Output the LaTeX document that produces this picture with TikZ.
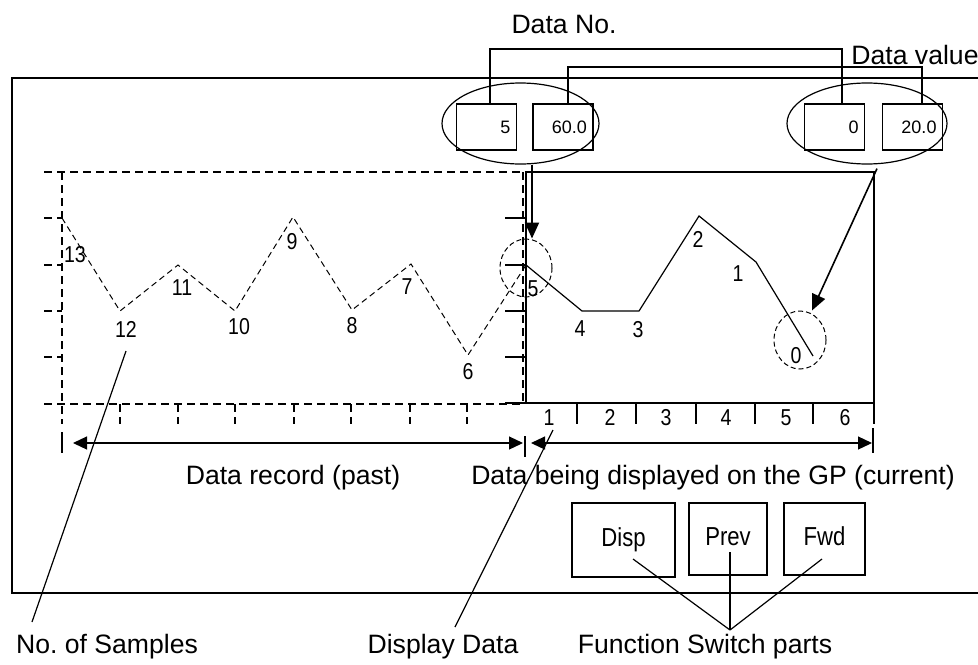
\documentclass[tikz,border=0pt]{standalone}
\usepackage{fontspec}
\setmainfont{Liberation Sans}
\newfontfamily\condfont[FakeStretch=0.85]{Liberation Sans}
\usetikzlibrary{arrows.meta,shapes.geometric}
\frenchspacing

\tikzset{
  every node/.style={font=\fontsize{13.3}{16}\selectfont},
  frameline/.style={line width=1pt},
  thinline/.style={line width=0.6pt},
  dashframe/.style={line width=1pt, dash pattern=on 4pt off 2.5pt},
  pastline/.style={line width=0.5pt, dash pattern=on 3pt off 2pt},
  ptlabel/.style={font=\condfont\fontsize{11.5}{13}\selectfont, inner sep=1pt,
    text height=8.3pt, text depth=0pt},
  valbox/.style={draw, line width=0.6pt, minimum height=23pt, inner xsep=3pt,
    text width=24pt, align=right, font=\fontsize{9}{11}\selectfont},
  group/.style={draw, ellipse, line width=0.6pt, minimum height=40.5pt, inner sep=0pt},
  ring/.style={draw, ellipse, line width=0.5pt, dash pattern=on 2.5pt off 1.5pt,
    minimum width=26pt, minimum height=29pt, inner sep=0pt},
  swbox/.style={draw, line width=0.6pt, minimum height=36pt, text height=9.4pt, text depth=2.6pt,
    font=\condfont\fontsize{13}{15}\selectfont},
  bigtip/.style={-{Triangle[length=8pt,width=7pt]}},
  dimarrow/.style={{Triangle[length=7pt,width=6.5pt]}-{Triangle[length=7pt,width=6.5pt]}, line width=0.6pt}
}

\begin{document}
\begin{tikzpicture}[x=0.5pt,y=-0.5pt]
  \useasboundingbox (0,0) rectangle (978,664);
  % outer frame
  \draw[frameline] (978,78) -- (12,78) -- (12,593) -- (978,593);

  % past record (dashed)
  \draw[dashframe] (44,172) -- (526,172);
  \draw[dashframe] (44,404) -- (524,404);
  \draw[dashframe] (62,172) -- (62,424);
  \draw[dashframe] (523,172) -- (523,404);
  \foreach \y in {218,265,311,357}
    \draw[dashframe] (44,\y) -- (62,\y);
  \foreach \x in {120,178,235,294,351,410,467}
    \draw[dashframe] (\x,404) -- (\x,424);

  % current display (solid)
  \draw[frameline] (526,172) rectangle (874,403);
  \foreach \y in {218,265,311,357,403}
    \draw[frameline] (505,\y) -- (526,\y);
  \foreach \x in {577,636,696,755,813,874}
    \draw[frameline] (\x,403) -- (\x,424);
  \foreach \x/\n in {549/1,610/2,666/3,726/4,786/5,845/6}
    \node[ptlabel] (ax\n) at (\x,417) {\n};

  % data points
  \coordinate (p13) at (62,218);
  \coordinate (p12) at (120,311);
  \coordinate (p11) at (178,265);
  \coordinate (p10) at (235,311);
  \coordinate (p9) at (293,217);
  \coordinate (p8) at (352,310);
  \coordinate (p7) at (411,264);
  \coordinate (p6) at (468,355);
  \coordinate (p5) at (526,265);
  \coordinate (p4) at (582,311);
  \coordinate (p3) at (639,311);
  \coordinate (p2) at (699,216);
  \coordinate (p1) at (756,262);
  \coordinate (p0) at (813,356);
  \draw[pastline] (p13) -- (p12) -- (p11) -- (p10) -- (p9) -- (p8) -- (p7) -- (p6) -- (p5);
  \draw[thinline] (p5) -- (p4) -- (p3) -- (p2) -- (p1) -- (p0);

  % point numbers
  \node[ptlabel] (l13) at (75,254) {13};
  \node[ptlabel] (l12) at (126,329) {12};
  \node[ptlabel] (l11) at (182,287) {11};
  \node[ptlabel] (l10) at (239,326) {10};
  \node[ptlabel] (l9) at (292,241) {9};
  \node[ptlabel] (l8) at (352,325) {8};
  \node[ptlabel] (l7) at (407,286) {7};
  \node[ptlabel] (l6) at (468,371) {6};
  \node[ptlabel] (l5) at (533,288) {5};
  \node[ptlabel] (l4) at (580,328) {4};
  \node[ptlabel] (l3) at (638,329) {3};
  \node[ptlabel] (l2) at (698,239) {2};
  \node[ptlabel] (l1) at (738,273) {1};
  \node[ptlabel] (l0) at (796,355) {0};

  % marked points
  \node[ring] (ring5) at (526,268) {};
  \node[ring] (ring0) at (800,340) {};

  % value boxes
  \node[valbox] (b5) at (486.5,127) {5};
  \node[valbox] (b60) at (563,127) {60.0};
  \node[valbox] (b0) at (834.5,127) {0};
  \node[valbox] (b20) at (912.5,127) {20.0};
  \node[group, minimum width=78.5pt] (grpL) at (520.5,123.5) {};
  \node[group, minimum width=80pt] (grpR) at (867,123.5) {};
  \draw[frameline] ([xshift=1.75pt]b5.north) -- ++(0,-54) -| ([xshift=3.75pt]b0.north);
  \draw[frameline] ([xshift=2.5pt]b60.north) -- ++(0,-36) -| ([xshift=4.75pt]b20.north);
  \node (datano) at (564,24) {Data No.};
  \node (dataval) at (915,55) {Data value};

  % arrows to marked points
  \draw[bigtip, frameline] ([xshift=5.75pt]grpL.south) -- ([xshift=3pt]ring5.north);
  \draw[bigtip, line width=0.8pt] ([shift={(10,4)}]grpR.south) -- ([xshift=6pt]ring0.north);

  % ranges
  \coordinate (pastL) at (62,443);
  \coordinate (pastR) at (525,443);
  \coordinate (curR) at (873,443);
  \draw[thinline] (62,432) -- (62,453);
  \draw[thinline] (525,436) -- (525,457);
  \draw[thinline] (873,428) -- (873,453);
  \draw[dimarrow] ([xshift=5.5pt]pastL) -- ([xshift=-1pt]pastR);
  \draw[dimarrow] ([xshift=3pt]pastR) -- ([xshift=-0.5pt]curR);
  \node (pastlbl) at (293,478) {Data record (past)};
  \node (curlbl) at (713,478) {Data being displayed on the GP (current)};

  % function switches
  \node[swbox, minimum width=51.5pt, minimum height=37pt] (disp) at (623.5,540) {Disp};
  \node[swbox, minimum width=39pt] (prev) at (728,539) {Prev};
  \node[swbox, minimum width=40.5pt] (fwd) at (824.5,539) {Fwd};
  \coordinate (swjoin) at (730,630);
  \draw[thinline] ([shift={(9.5,19)}]disp.center) -- (swjoin);
  \draw[thinline] ([shift={(2,13)}]prev.center) -- (swjoin);
  \draw[thinline] ([shift={(-2.5,20)}]fwd.center) -- (swjoin);

  % bottom labels
  \coordinate (nsampA) at (32,622);
  \coordinate (nsampB) at (126,351);
  \draw[thinline] (nsampA) -- (nsampB);
  \coordinate (ddataA) at (455,627);
  \coordinate (ddataB) at (553,430);
  \draw[thinline] (ddataA) -- (ddataB);
  \node (nsamp) at (107,647) {No. of Samples};
  \node (dispdata) at (443,647) {Display Data};
  \node (fsw) at (705,647) {Function Switch parts};
\end{tikzpicture}
\end{document}
